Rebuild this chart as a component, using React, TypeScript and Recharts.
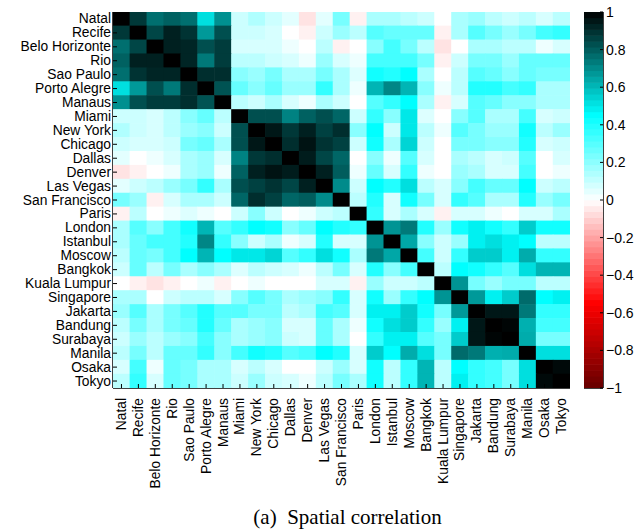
import React from "react";
import { ScatterChart, Scatter, XAxis, YAxis } from "recharts";

const cities = [
  "Natal", "Recife", "Belo Horizonte", "Rio", "Sao Paulo", "Porto Alegre", "Manaus",
  "Miami", "New York", "Chicago", "Dallas", "Denver", "Las Vegas", "San Francisco",
  "Paris", "London", "Istanbul", "Moscow", "Bangkok", "Kuala Lumpur", "Singapore",
  "Jakarta", "Bandung", "Surabaya", "Manila", "Osaka", "Tokyo",
];

// upper triangle of the correlation matrix: each row holds the columns to the right of the diagonal
const natal = [0.88, 0.76, 0.79, 0.76, 0.52, 0.69, 0.09, 0.14, 0.09, 0.05, -0.06, 0.05, 0.24, -0.03, 0.15, 0.15, 0.12, 0.09, 0, 0.15, 0.18, 0.12, 0.09, 0.12, 0.07, 0.12];
const recife = [0.85, 0.93, 0.89, 0.67, 0.83, 0.09, 0.09, 0.07, 0, -0.03, 0.09, 0.18, 0.12, 0.3, 0.27, 0.27, 0.27, -0.03, 0.15, 0.3, 0.24, 0.18, 0.24, 0.33, 0.36];
const beloHorizonte = [0.93, 0.92, 0.83, 0.87, 0.07, 0.07, 0.07, 0.03, 0, 0.12, -0.03, 0, 0.21, 0.33, 0.24, 0.12, -0.06, 0, 0.15, 0.15, 0.12, 0.12, 0.03, 0.07];
const rio = [0.92, 0.74, 0.87, 0.12, 0.12, 0.09, 0.07, 0.03, 0.18, 0.07, 0.03, 0.33, 0.33, 0.33, 0.24, -0.03, 0.09, 0.24, 0.24, 0.18, 0.27, 0.27, 0.27];
const saoPaulo = [0.9, 0.9, 0.21, 0.18, 0.24, 0.15, 0.15, 0.24, 0.15, 0.06, 0.42, 0.39, 0.45, 0.15, 0, 0.12, 0.3, 0.27, 0.21, 0.27, 0.24, 0.24];
const portoAlegre = [0.82, 0.27, 0.21, 0.27, 0.18, 0.18, 0.36, 0.15, 0.03, 0.61, 0.71, 0.61, 0.21, 0.03, 0.12, 0.39, 0.39, 0.33, 0.36, 0.15, 0.15];
const manaus = [0.12, 0.09, 0.15, 0.07, 0.03, 0.15, 0.09, 0, 0.3, 0.36, 0.45, 0.15, -0.03, 0.07, 0.3, 0.27, 0.21, 0.21, 0.15, 0.15];
const miami = [0.83, 0.83, 0.72, 0.79, 0.83, 0.78, 0.09, 0.36, 0.21, 0.5, 0.06, 0, 0.21, 0.3, 0.15, 0.15, 0.33, 0.07, 0.09];
const newYork = [0.95, 0.88, 0.93, 0.86, 0.9, 0.21, 0.45, 0.09, 0.5, 0.12, 0.03, 0.3, 0.24, 0.18, 0.18, 0.42, 0.12, 0.18];
const chicago = [0.9, 0.96, 0.89, 0.86, 0.09, 0.42, 0.15, 0.54, 0.09, 0, 0.24, 0.24, 0.21, 0.21, 0.39, 0.07, 0.09];
const dallas = [0.94, 0.85, 0.78, 0, 0.21, 0.03, 0.3, 0.07, 0, 0.15, 0.12, 0.07, 0.09, 0.3, 0, 0.07];
const denver = [0.93, 0.8, 0.03, 0.27, 0.07, 0.36, 0.03, 0, 0.18, 0.15, 0.07, 0.07, 0.33, 0, 0.03];
const lasVegas = [0.7, 0.09, 0.45, 0.39, 0.52, 0.12, 0.07, 0.21, 0.33, 0.27, 0.27, 0.45, 0.09, 0.12];
const sanFrancisco = [0.12, 0.39, 0.07, 0.42, 0.24, 0.07, 0.36, 0.3, 0.15, 0.15, 0.39, 0.18, 0.24];
const paris = [0.36, 0.07, 0.15, 0.07, -0.03, 0.07, 0.07, 0.03, 0, 0.07, 0.07, 0.15];
const london = [0.68, 0.74, 0.39, 0.18, 0.42, 0.48, 0.42, 0.36, 0.56, 0.42, 0.42];
const istanbul = [0.64, 0.21, 0.09, 0.18, 0.48, 0.52, 0.48, 0.45, 0.12, 0.12];
const moscow = [0.33, 0.09, 0.36, 0.56, 0.56, 0.48, 0.63, 0.36, 0.36];
const bangkok = [0.12, 0.45, 0.42, 0.36, 0.3, 0.52, 0.61, 0.61];
const kualaLumpur = [0.68, 0.24, 0.18, 0.24, 0.24, 0.12, 0.12];
const singapore = [0.67, 0.48, 0.56, 0.77, 0.45, 0.48];
const jakarta = [0.95, 0.95, 0.74, 0.36, 0.36];
const bandung = [0.99, 0.62, 0.33, 0.33];
const surabaya = [0.63, 0.24, 0.24];
const manila = [0.52, 0.52];
const osaka = [0.98];

const upperRows = [
  natal, recife, beloHorizonte, rio, saoPaulo, portoAlegre, manaus, miami, newYork,
  chicago, dallas, denver, lasVegas, sanFrancisco, paris, london, istanbul, moscow,
  bangkok, kualaLumpur, singapore, jakarta, bandung, surabaya, manila, osaka,
];

const colorbarTicks = [-1, -0.8, -0.6, -0.4, -0.2, 0, 0.2, 0.4, 0.6, 0.8, 1];
const colorLevels = 64;

const FONT = "'Liberation Sans', Arial, Helvetica, sans-serif";

// plot frame (px) used to size each heatmap cell
const PLOT_LEFT = 113;
const PLOT_TOP = 12;
const PLOT_RIGHT = 570;
const PLOT_BOTTOM = 388;
const CELL_W = (PLOT_RIGHT - PLOT_LEFT) / cities.length;
const CELL_H = (PLOT_BOTTOM - PLOT_TOP) / cities.length;

const n = cities.length;
const cells: { x: number; y: number; v: number }[] = [];
for (let i = 0; i < n; i++) {
  for (let j = 0; j < n; j++) {
    let v = 1;
    if (j > i) v = upperRows[i][j - i - 1];
    else if (j < i) v = upperRows[j][i - j - 1];
    cells.push({ x: j, y: i, v });
  }
}

const bands = Array.from({ length: colorLevels }, (_, k) => ({
  x: 0.5,
  y: -1 + ((k + 0.5) * 2) / colorLevels,
}));

// white -> cyan -> black for positive, white -> red -> dark red for negative
function colorFor(v: number) {
  let r: number, g: number, b: number;
  if (v >= 0.45) {
    const t = Math.min(1, (v - 0.45) / 0.55);
    r = 0;
    g = b = 1 - t;
  } else if (v >= 0) {
    r = 1 - v / 0.45;
    g = b = 1;
  } else if (v >= -0.55) {
    r = 1;
    g = b = 1 + v / 0.55;
  } else {
    const t = Math.min(1, (-v - 0.55) / 0.45);
    r = 1 - 0.6 * t;
    g = b = 0;
  }
  const h = (c: number) => Math.round(c * 255).toString(16).padStart(2, "0");
  return `#${h(r)}${h(g)}${h(b)}`;
}

const idx = cities.map((_, i) => i);

const CellShape = (props: any) => {
  const { cx, cy, payload } = props;
  return (
    <rect
      x={cx - CELL_W / 2 - 0.3}
      y={cy - CELL_H / 2 - 0.3}
      width={CELL_W + 0.6}
      height={CELL_H + 0.6}
      fill={colorFor(payload.v)}
    />
  );
};

const BottomTick = (props: any) => {
  const { x, y, payload } = props;
  const ty = y + 10;
  return (
    <g>
      <line x1={x} y1={y} x2={x} y2={y - 4} stroke="#000" strokeWidth={1} />
      <text
        x={x}
        y={ty}
        transform={`rotate(-90, ${x}, ${ty})`}
        textAnchor="end"
        dominantBaseline="central"
        fontSize={13.8}
        fontFamily={FONT}
        fill="#000"
      >
        {cities[payload.value]}
      </text>
    </g>
  );
};

const LeftTick = (props: any) => {
  const { x, y, payload } = props;
  return (
    <g>
      <line x1={x} y1={y} x2={x + 4} y2={y} stroke="#000" strokeWidth={1} />
      <text
        x={x - 2}
        y={y}
        textAnchor="end"
        dominantBaseline="central"
        fontSize={13.8}
        fontFamily={FONT}
        fill="#000"
      >
        {cities[payload.value]}
      </text>
    </g>
  );
};

const TopTick = (props: any) => {
  const { x, y } = props;
  return <line x1={x} y1={y} x2={x} y2={y + 4} stroke="#000" strokeWidth={1} />;
};

const RightTick = (props: any) => {
  const { x, y } = props;
  return <line x1={x} y1={y} x2={x - 4} y2={y} stroke="#000" strokeWidth={1} />;
};

const BandShape = (props: any) => {
  const { cx, cy, payload } = props;
  const bw = 19;
  const bh = (PLOT_BOTTOM - PLOT_TOP) / colorLevels;
  return (
    <rect
      x={cx - bw / 2}
      y={cy - bh / 2 - 0.3}
      width={bw}
      height={bh + 0.6}
      fill={colorFor(payload.y)}
    />
  );
};

const fmt = (v: number) => {
  const r = Math.round(v * 10) / 10;
  if (r === 0) return "0";
  return r < 0 ? `\u2212${Math.abs(r)}` : `${r}`;
};

const BarRightTick = (props: any) => {
  const { x, y, payload } = props;
  return (
    <g>
      <line x1={x} y1={y} x2={x - 3} y2={y} stroke="#000" strokeWidth={1} />
      <text
        x={x + 3}
        y={y}
        textAnchor="start"
        dominantBaseline="central"
        fontSize={14}
        fontFamily={FONT}
        fill="#000"
      >
        {fmt(payload.value)}
      </text>
    </g>
  );
};

const BarLeftTick = (props: any) => {
  const { x, y } = props;
  return <line x1={x} y1={y} x2={x + 3} y2={y} stroke="#000" strokeWidth={1} />;
};

const frame = { stroke: "#000", strokeWidth: 1.5 };

export default function App() {
  return (
    <div style={{ position: "absolute", left: 0, top: 0, width: 640, height: 529, background: "#fff" }}>
      <div style={{ position: "absolute", left: 0, top: 0 }}>
        <ScatterChart width={640} height={529} margin={{ top: PLOT_TOP, right: 640 - PLOT_RIGHT, bottom: 0, left: 0 }}>
          <XAxis
            type="number"
            dataKey="x"
            domain={[-0.5, n - 0.5]}
            allowDataOverflow
            ticks={idx}
            interval={0}
            height={529 - PLOT_BOTTOM}
            tickSize={0}
            tickMargin={0}
            tickLine={false}
            axisLine={frame}
            tick={<BottomTick />}
          />
          <XAxis
            xAxisId="top"
            orientation="top"
            type="number"
            dataKey="x"
            domain={[-0.5, n - 0.5]}
            allowDataOverflow
            ticks={idx}
            interval={0}
            height={0}
            tickSize={0}
            tickMargin={0}
            tickLine={false}
            axisLine={frame}
            tick={<TopTick />}
          />
          <YAxis
            type="number"
            dataKey="y"
            domain={[-0.5, n - 0.5]}
            allowDataOverflow
            reversed
            ticks={idx}
            interval={0}
            width={PLOT_LEFT}
            tickSize={0}
            tickMargin={0}
            tickLine={false}
            axisLine={frame}
            tick={<LeftTick />}
          />
          <YAxis
            yAxisId="right"
            orientation="right"
            type="number"
            dataKey="y"
            domain={[-0.5, n - 0.5]}
            allowDataOverflow
            reversed
            ticks={idx}
            interval={0}
            width={0}
            tickSize={0}
            tickMargin={0}
            tickLine={false}
            axisLine={frame}
            tick={<RightTick />}
          />
          <Scatter data={cells} shape={<CellShape />} isAnimationActive={false} />
          <Scatter data={cells} xAxisId="top" yAxisId="right" shape={() => <g />} isAnimationActive={false} />
        </ScatterChart>
      </div>
      <div style={{ position: "absolute", left: 560, top: 0 }}>
        <ScatterChart width={80} height={529} margin={{ top: PLOT_TOP, right: 0, bottom: 0, left: 24 }}>
          <XAxis type="number" dataKey="x" domain={[0, 1]} allowDataOverflow height={529 - PLOT_BOTTOM} tick={false} tickLine={false} axisLine={frame} />
          <XAxis xAxisId="top" orientation="top" type="number" dataKey="x" domain={[0, 1]} allowDataOverflow height={0} tick={false} tickLine={false} axisLine={frame} />
          <YAxis
            orientation="right"
            type="number"
            dataKey="y"
            domain={[-1, 1]}
            allowDataOverflow
            ticks={colorbarTicks}
            interval={0}
            width={37}
            tickSize={0}
            tickMargin={0}
            tickLine={false}
            axisLine={frame}
            tick={<BarRightTick />}
          />
          <YAxis
            yAxisId="left"
            orientation="left"
            type="number"
            dataKey="y"
            domain={[-1, 1]}
            allowDataOverflow
            ticks={colorbarTicks}
            interval={0}
            width={0}
            tickSize={0}
            tickMargin={0}
            tickLine={false}
            axisLine={frame}
            tick={<BarLeftTick />}
          />
          <Scatter data={bands} shape={<BandShape />} isAnimationActive={false} />
          <Scatter data={bands} xAxisId="top" yAxisId="left" shape={() => <g />} isAnimationActive={false} />
        </ScatterChart>
      </div>
      <svg width={640} height={529} style={{ position: "absolute", left: 0, top: 0, pointerEvents: "none" }}>
        <text
          x={347.5}
          y={524}
          textAnchor="middle"
          fontSize={21}
          fontFamily="'Liberation Serif', 'Times New Roman', serif"
          fill="#000"
          style={{ whiteSpace: "pre" }}
        >
          {"(a)  Spatial correlation"}
        </text>
      </svg>
    </div>
  );
}
